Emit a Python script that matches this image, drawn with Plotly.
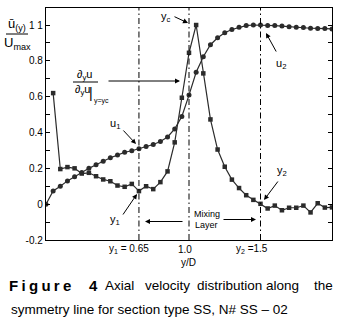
import plotly.graph_objects as go

# ---------------- data ----------------
x_u = [0.0, 0.05, 0.10, 0.15, 0.20, 0.25, 0.30, 0.35, 0.40, 0.45, 0.50, 0.55, 0.60, 0.65,
       0.70, 0.75, 0.80, 0.85, 0.90, 0.95, 1.00, 1.05, 1.10, 1.15, 1.20, 1.25, 1.30, 1.35,
       1.40, 1.45, 1.50, 1.55, 1.60, 1.65, 1.70, 1.75, 1.80, 1.85, 1.90, 1.95, 2.00]
u_vals = [0.0, 0.074, 0.10, 0.13, 0.153, 0.177, 0.20, 0.22, 0.24, 0.259, 0.274, 0.29, 0.298, 0.309,
          0.322, 0.333, 0.35, 0.375, 0.42, 0.49, 0.609, 0.736, 0.823, 0.89, 0.929, 0.957, 0.975, 0.988,
          0.997, 1.0, 1.0, 0.998, 0.997, 0.994, 0.99, 0.988, 0.986, 0.982, 0.981, 0.98, 0.978]

x_d = [0.05, 0.10, 0.15, 0.20, 0.25, 0.30, 0.35, 0.40, 0.45, 0.50, 0.55, 0.60, 0.65,
       0.70, 0.75, 0.80, 0.85, 0.90, 0.95, 1.00, 1.05, 1.10, 1.15, 1.20, 1.25, 1.30, 1.35,
       1.40, 1.45, 1.50, 1.55, 1.60, 1.65, 1.70, 1.75, 1.80, 1.85, 1.90, 1.95, 2.00]
d_vals = [0.62, 0.196, 0.207, 0.20, 0.171, 0.175, 0.156, 0.138, 0.128, 0.104, 0.097, 0.113, 0.073,
          0.10, 0.084, 0.123, 0.183, 0.345, 0.594, 0.845, 1.0, 0.73, 0.473, 0.305, 0.209, 0.137, 0.09,
          0.05, 0.024, 0.002, -0.024, -0.008, -0.034, -0.02, -0.02, -0.008, -0.046, 0.005, -0.019, -0.018]

ref_lines = [0.65, 1.0, 1.5]
ref_labels = ["y<sub>1</sub> = 0.65", "1.0", "y<sub>2</sub> =1.5"]

y_tickvals = [-0.2, 0, 0.2, 0.4, 0.6, 0.8, 1.0]
y_ticktext = ["-0.2", "0", "0.2", "0.4", "0.6", "0.8", "1 1"]
y_minorvals = [-0.1, 0.1, 0.3, 0.5, 0.7, 0.9]

caption1 = ["Axial", "velocity", "distribution", "along", "the"]
caption2 = "symmetry line for section type SS, N# SS \u2013 02"

# ---------------- layout helpers ----------------
W, H = 343, 323
L, R, T, B = 46, 11, 8, 83
PW, PH = W - L - R, H - T - B

def px(x):
    return (x - L) / PW

def py(y):
    return (H - B - y) / PH

FONT = "Liberation Sans, Arial, sans-serif"
INK = "#2b2b2b"

fig = go.Figure()
fig.add_trace(go.Scatter(x=x_u, y=u_vals, mode="lines+markers",
                         line=dict(color=INK, width=1.2),
                         marker=dict(symbol="circle", size=5, color=INK)))
fig.add_trace(go.Scatter(x=x_d, y=d_vals, mode="lines+markers",
                         line=dict(color=INK, width=1.2),
                         marker=dict(symbol="square", size=4.5, color=INK)))

shapes = []
for xv in ref_lines:
    shapes.append(dict(type="line", xref="x", yref="paper", x0=xv, x1=xv, y0=0, y1=1,
                       line=dict(color="black", width=1, dash="6px,3px,1.5px,3px")))
# fraction bars
shapes.append(dict(type="line", xref="paper", yref="paper", x0=px(6), x1=px(28), y0=py(34), y1=py(34),
                   line=dict(color="black", width=1)))
shapes.append(dict(type="line", xref="paper", yref="paper", x0=px(73), x1=px(98), y0=py(82), y1=py(82),
                   line=dict(color="black", width=1)))

ann = []

def text(xp, yp, s, size=11, anchor="center", yanchor="middle", bold=False):
    ann.append(dict(x=px(xp), y=py(yp), xref="paper", yref="paper", text=s, showarrow=False,
                    xanchor=anchor, yanchor=yanchor,
                    font=dict(family=FONT, size=size, color="black",
                              weight="bold" if bold else "normal")))

def arrow(x0, y0, x1, y1):
    ann.append(dict(x=px(x1), y=py(y1), ax=x0 - x1, ay=y0 - y1, xref="paper", yref="paper",
                    axref="pixel", ayref="pixel", text="", showarrow=True,
                    arrowhead=2, arrowsize=1, arrowwidth=1, arrowcolor="black"))

# y axis fraction title
text(17, 24, "\u016b<sub>(y)</sub>", size=13)
text(17, 43, "U<sub>max</sub>", size=13)
# derivative label
text(84, 75, "\u2202<sub>y</sub>u", size=11)
text(82, 90, "\u2202<sub>y</sub>u", size=11)
text(90.5, 93, "|", size=14)
text(92, 101, "y=yc", size=7, anchor="left")
arrow(107, 81, 180, 81)
# y_c
text(166, 17, "y<sub>c</sub>", size=11)
arrow(173, 16, 188, 23)
# u1, u2, y1, y2
text(115, 124, "u<sub>1</sub>", size=11)
arrow(122, 129, 136, 144)
text(281, 64, "u<sub>2</sub>", size=11)
arrow(277, 53, 266, 33)
text(115, 220, "y<sub>1</sub>", size=11)
arrow(122, 216, 137, 194)
text(282, 171, "y<sub>2</sub>", size=11)
arrow(279, 180, 264, 200)
# mixing layer
text(207, 214, "Mixing", size=9)
text(206, 225, "Layer", size=9)
arrow(184, 221.5, 145, 221.5)
arrow(222, 219.5, 256, 219.5)

# x reference labels (drawn at the axis values)
shifts = [-10, -4, -9]
for xv, lab, sh in zip(ref_lines, ref_labels, shifts):
    ann.append(dict(x=xv, y=py(249), xref="x", yref="paper", text=lab, showarrow=False,
                    xanchor="center", yanchor="middle", xshift=sh,
                    font=dict(family=FONT, size=10, color="black")))
text(188, 262, "y/D", size=10)

# caption
text(7, 285, '<span style="letter-spacing:3.3px">Figure</span>', size=15, anchor="left", bold=True)
text(87, 285, "4", size=15, anchor="left", bold=True)
cap1_x = [103, 143, 195, 264, 312]
for w, xp in zip(caption1, cap1_x):
    text(xp, 285, w, size=13.5, anchor="left")
text(9, 309, caption2, size=13.5, anchor="left")

fig.update_layout(
    width=W, height=H, margin=dict(l=L, r=R, t=T, b=B),
    plot_bgcolor="white", paper_bgcolor="white", showlegend=False,
    font=dict(family=FONT, size=10, color="black"),
    shapes=shapes, annotations=ann,
    xaxis=dict(range=[0, 2], showgrid=False, zeroline=False, showline=True, linecolor="black",
               linewidth=1.3, mirror=True, ticks="", showticklabels=False),
    yaxis=dict(range=[-0.2, 1.095], showgrid=False, zeroline=False, showline=True, linecolor="black",
               linewidth=1.3, mirror="ticks", tickmode="array", tickvals=y_tickvals, ticktext=y_ticktext,
               ticks="inside", ticklen=4, tickcolor="black", tickfont=dict(size=10),
               minor=dict(tickmode="array", tickvals=y_minorvals, ticks="inside", ticklen=4,
                          tickcolor="black")),
)

fig.write_html("out.html", config={"displayModeBar": False},
               post_script="document.body.style.margin='0px';")
